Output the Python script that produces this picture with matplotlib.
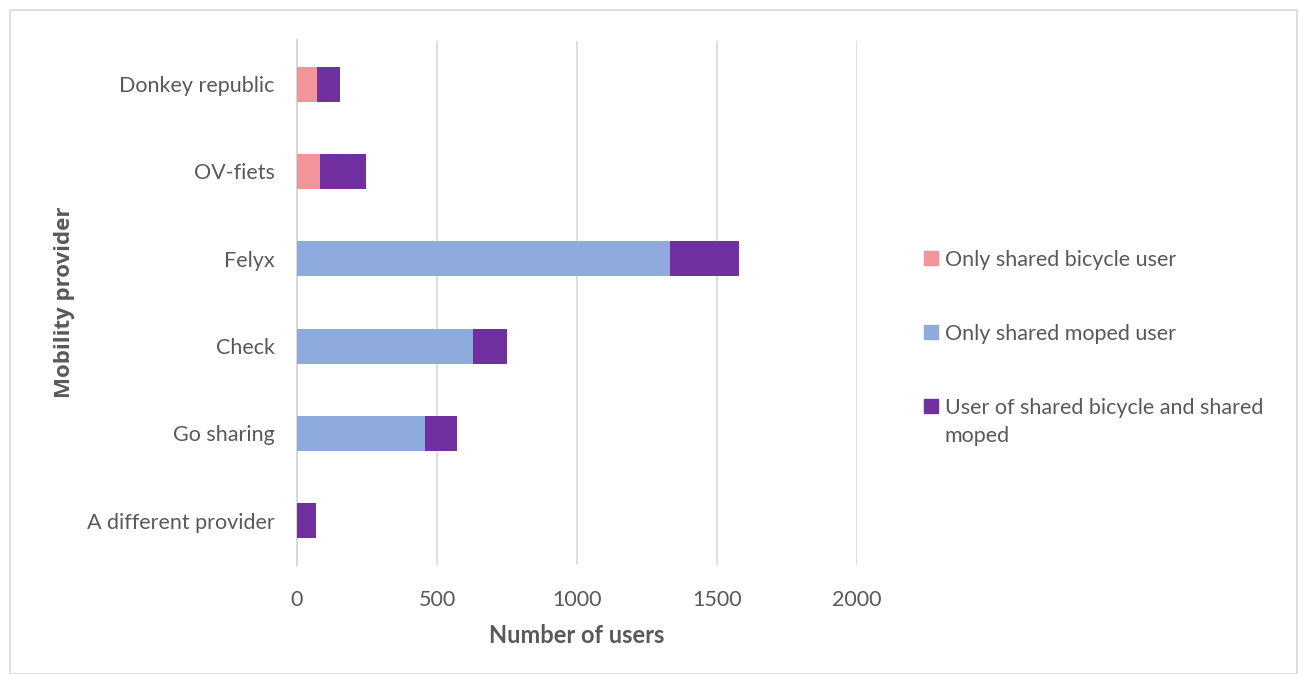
import numpy as np
import matplotlib.pyplot as plt
from matplotlib.patches import Rectangle

plt.rcParams['font.family'] = ['Lato', 'DejaVu Sans']

providers = ['Donkey republic', 'OV-fiets', 'Felyx', 'Check', 'Go sharing', 'A different provider']
only_bicycle = [70, 82, 0, 0, 0, 0]
only_moped = [0, 0, 1332, 627, 458, 0]
both = [84, 164, 248, 122, 112, 68]

series_names = ['Only shared bicycle user', 'Only shared moped user',
                'User of shared bicycle and shared\nmoped']
colors = ['#F1959B', '#8FAADC', '#7030A0']
text_col = '#595959'

W, H = 1300, 674
fig = plt.figure(figsize=(W / 100, H / 100), dpi=100)
ax = fig.add_axes([297/W, 1 - 564.5/H, 560/W, 524/H])

y = np.arange(len(providers))
left = np.zeros(len(providers))
for vals, col, name in zip([only_bicycle, only_moped, both], colors, series_names):
    vals = np.array(vals, dtype=float)
    ax.barh(y, vals, left=left, height=0.4, color=col, label=name, zorder=3)
    left += vals

ax.set_ylim(len(providers) - 0.5, -0.5)
ax.set_xlim(0, 2000)
ax.set_xticks([0, 500, 1000, 1500, 2000])
ax.set_yticks(y)
ax.set_yticklabels(providers)
ax.xaxis.grid(True, color='#d9d9d9', linewidth=1.2, zorder=0)
for s in ['top', 'right', 'bottom']:
    ax.spines[s].set_visible(False)
ax.spines['left'].set_color('#d9d9d9')
ax.spines['left'].set_linewidth(1.5)
ax.tick_params(axis='both', length=0, labelsize=15.5, colors=text_col)
ax.tick_params(axis='x', pad=18.5)
ax.tick_params(axis='y', pad=16)

ax.set_xlabel('Number of users', fontsize=17, fontweight='bold', color=text_col, labelpad=10)
ax.set_ylabel('Mobility provider', fontsize=16, fontweight='bold', color=text_col, labelpad=9,
              family=['Open Sans', 'DejaVu Sans'])

# legend drawn by hand to match the layout (marker aligned with first text line)
legend_y = [258, 332, 406]
for name, col, ly in zip(series_names, colors, legend_y):
    fig.patches.append(Rectangle((924/W, 1 - (ly + 7)/H), 14/W, 14/H,
                                 transform=fig.transFigure, color=col))
    fig.text(945/W, 1 - (ly - 8)/H, name, fontsize=15.5, color=text_col,
             va='top', ha='left', linespacing=1.5)

# outer chart border
fig.patches.append(Rectangle((10/W, 0), 1287/W, 1 - 10/H, transform=fig.transFigure,
                             fill=False, edgecolor='#d9d9d9', linewidth=1.2))

fig.savefig('out.png', dpi=100)
